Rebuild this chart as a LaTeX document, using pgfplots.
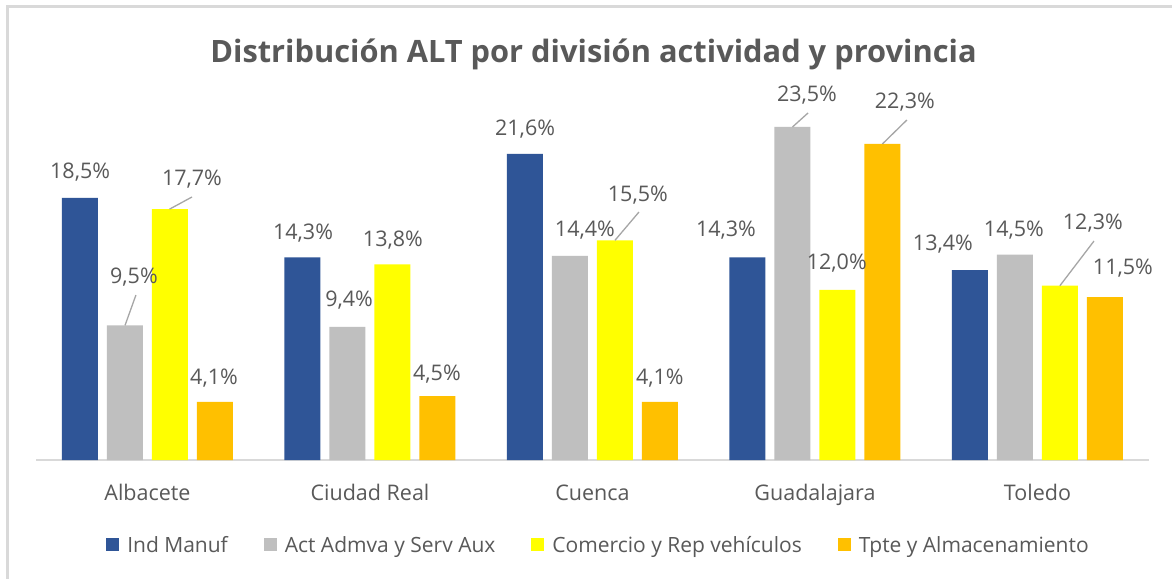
\documentclass[border=0pt]{standalone}
\usepackage{pgfplots}
\pgfplotsset{compat=1.18}
\usepackage{fontspec}
\setmainfont{Open Sans}
\definecolor{cblue}{HTML}{2F5597}
\definecolor{cgray}{HTML}{BFBFBF}
\definecolor{cyellow}{HTML}{FFFF00}
\definecolor{corange}{HTML}{FFC000}
\definecolor{ctext}{HTML}{595959}
\definecolor{cline}{HTML}{D9D9D9}
\definecolor{cleader}{HTML}{A6A6A6}
\newcommand{\lf}{\fontsize{21.5}{25}\selectfont}
\newcommand{\lgf}{\fontsize{21}{25}\selectfont}
\begin{document}
\begin{tikzpicture}[x=1pt,y=1pt]
\useasboundingbox (0,0) rectangle (1172,-579);
\fill[white] (0,0) rectangle (1172,-579);
\fill[cline] (5.5,-5) rectangle (8.5,-579);
\fill[cline] (5.5,-5) rectangle (1172,-8);
\node[anchor=base, font=\bfseries\fontsize{30.8}{36}\selectfont, text=ctext] at (593.5,-62) {Distribución ALT por división actividad y provincia};
\begin{axis}[
  at={(36.25pt,-460pt)}, anchor=south west,
  scale only axis, width=1112.5pt, height=396.8pt,
  xmin=-0.5, xmax=4.5, ymin=0, ymax=28,
  axis y line=none, axis x line=bottom,
  x axis line style={draw=cline, line width=1.5pt, -},
  xtick={0,1,2,3,4},
  xticklabels={Albacete,Ciudad Real,Cuenca,Guadalajara,Toledo},
  major tick length=0pt,
  xticklabel style={font=\lf, text=ctext, anchor=base, yshift=-40pt},
  clip=false,
  legend columns=4,
  legend style={at={(0.5045,-0.214)}, anchor=center, draw=none, fill=none, font=\lgf, text=ctext,
    nodes={inner sep=0pt},
    /tikz/every odd column/.append style={column sep=8pt},
    /tikz/every even column/.append style={column sep=36pt}},
  legend image code/.code={\fill[#1] (0pt,-6.5pt) rectangle (13pt,6.5pt);},
]
\addplot[ybar, fill=cblue, draw=none, bar width=36pt, bar shift=-67.5pt] coordinates {(0,18.5) (1,14.3) (2,21.6) (3,14.3) (4,13.4)};
\addplot[ybar, fill=cgray, draw=none, bar width=36pt, bar shift=-22.5pt] coordinates {(0,9.5) (1,9.4) (2,14.4) (3,23.5) (4,14.5)};
\addplot[ybar, fill=cyellow, draw=none, bar width=36pt, bar shift=22.5pt] coordinates {(0,17.7) (1,13.8) (2,15.5) (3,12.0) (4,12.3)};
\addplot[ybar, fill=corange, draw=none, bar width=36pt, bar shift=67.5pt] coordinates {(0,4.1) (1,4.5) (2,4.1) (3,22.3) (4,11.5)};
\legend{Ind Manuf, Act Admva y Serv Aux, Comercio y Rep vehículos, Tpte y Almacenamiento}
% leader lines
\addplot[forget plot, cleader, line width=1.3pt] coordinates {(-0.101,9.5) (-0.052,11.64)};
\addplot[forget plot, cleader, line width=1.3pt] coordinates {(0.099,17.7) (0.2,18.56)};
\addplot[forget plot, cleader, line width=1.3pt] coordinates {(2.101,15.5) (2.209,17.5)};
\addplot[forget plot, cleader, line width=1.3pt] coordinates {(2.899,23.5) (2.969,24.49)};
\addplot[forget plot, cleader, line width=1.3pt] coordinates {(3.303,22.3) (3.413,23.99)};
\addplot[forget plot, cleader, line width=1.3pt] coordinates {(4.101,12.3) (4.254,15.45)};
% data labels
\addplot[forget plot, draw=none, mark=none, nodes near coords, point meta=explicit symbolic,
  every node near coord/.style={anchor=center, font=\lf, text=ctext, inner sep=0pt}]
  table[meta=lab] {
x y lab
-0.303 20.32 18,5\%
-0.061 12.91 9,5\%
0.200 19.83 17,7\%
0.299 5.79 4,1\%
0.699 16.02 14,3\%
0.906 11.29 9,4\%
1.103 15.52 13,8\%
1.301 6.07 4,5\%
1.697 23.35 21,6\%
1.966 16.20 14,4\%
2.204 18.70 15,5\%
2.303 5.79 4,1\%
2.600 16.23 14,3\%
2.964 25.76 23,5\%
3.098 13.90 12,0\%
3.404 25.26 22,3\%
3.575 15.24 13,4\%
3.894 16.23 14,5\%
4.249 16.72 12,3\%
4.384 13.55 11,5\%
};
\end{axis}
\end{tikzpicture}
\end{document}
